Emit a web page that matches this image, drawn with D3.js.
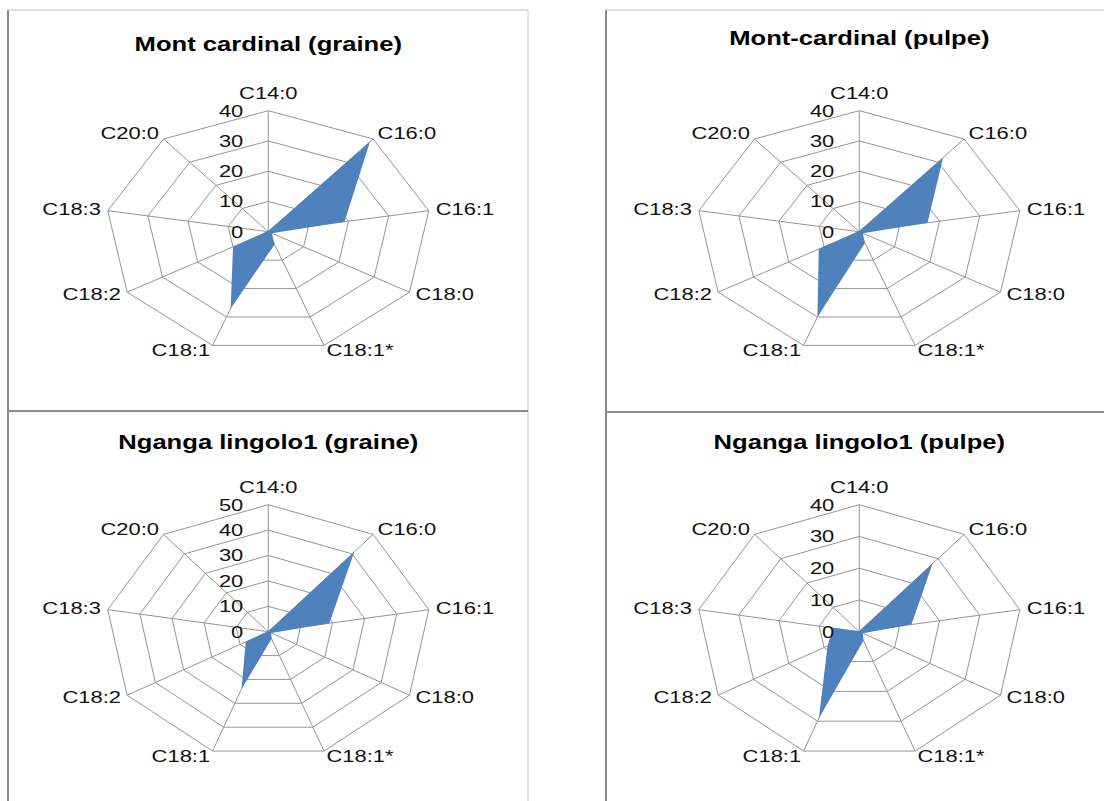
<!DOCTYPE html>
<html>
<head>
<meta charset="utf-8">
<script src="https://cdn.jsdelivr.net/npm/d3@7"></script>
<style>
  html, body { margin: 0; padding: 0; background: #fff; }
  svg { display: block; }
</style>
</head>
<body>
<svg id="chart" width="1104" height="801"></svg>
<script>
// ---- data ----
const categories = ["C14:0", "C16:0", "C16:1", "C18:0", "C18:1*", "C18:1", "C18:2", "C18:3", "C20:0"];
const titles = ["Mont cardinal (graine)", "Mont-cardinal (pulpe)", "Nganga lingolo1 (graine)", "Nganga lingolo1 (pulpe)"];
const montCardinalGraine = [0.2, 38.8, 19, 1, 4.5, 27, 10, 0.3, 0.2];
const montCardinalPulpe  = [0.2, 32, 17, 1, 4, 30, 11.5, 0.3, 0.2];
const ngangaGraine       = [0.2, 41, 19, 1, 3, 24, 8, 0.3, 0.2];
const ngangaPulpe        = [0.2, 28, 13, 1, 3, 29, 9, 6.5, 0.2];
const ticks40 = [0, 10, 20, 30, 40];
const ticks50 = [0, 10, 20, 30, 40, 50];

// ---- layout ----
const panels = [
  { values: montCardinalGraine, ticks: ticks40, cx: 268.3, cy: 231.7, ry: 121, titleY: 51 },
  { values: montCardinalPulpe,  ticks: ticks40, cx: 859.3, cy: 231.7, ry: 121, titleY: 45 },
  { values: ngangaGraine,       ticks: ticks50, cx: 268.3, cy: 631.7, ry: 127, titleY: 449 },
  { values: ngangaPulpe,        ticks: ticks40, cx: 859.3, cy: 631.7, ry: 127, titleY: 449 }
];
const RX = 163;           // horizontal radius on screen
const gridColor = "#959595";
const fillColor = "#4f81bd";

const svg = d3.select("#chart");

// frames
const frames = [
  { x1: 8, y1: 10, x2: 8, y2: 801, c: "#8a8a8a", w: 2 },
  { x1: 8, y1: 10, x2: 528, y2: 10, c: "#bdbdbd", w: 1 },
  { x1: 528, y1: 10, x2: 528, y2: 801, c: "#c8c8c8", w: 1 },
  { x1: 8, y1: 411, x2: 528, y2: 411, c: "#8a8a8a", w: 2 },
  { x1: 606, y1: 10, x2: 606, y2: 801, c: "#8a8a8a", w: 2 },
  { x1: 606, y1: 10, x2: 1104, y2: 10, c: "#bdbdbd", w: 1 },
  { x1: 606, y1: 412, x2: 1104, y2: 412, c: "#8a8a8a", w: 2 }
];
svg.selectAll("line.frame").data(frames).join("line")
  .attr("class", "frame")
  .attr("x1", d => d.x1).attr("y1", d => d.y1)
  .attr("x2", d => d.x2).attr("y2", d => d.y2)
  .attr("stroke", d => d.c).attr("stroke-width", d => d.w);

const angle = d3.scaleLinear().domain([0, categories.length]).range([0, 2 * Math.PI]);

panels.forEach((p, k) => {
  const maxV = d3.max(p.ticks);
  const r = d3.scaleLinear().domain([0, maxV]).range([0, p.ry]);
  const sx = RX / p.ry;

  const g = svg.append("g").attr("transform", `translate(${p.cx},${p.cy}) scale(${sx},1)`);

  const ringLine = d3.lineRadial()
    .angle((d, i) => angle(i))
    .radius(d => r(d))
    .curve(d3.curveLinearClosed);

  // rings
  g.selectAll("path.ring").data(p.ticks.filter(t => t > 0)).join("path")
    .attr("class", "ring")
    .attr("d", t => ringLine(categories.map(() => t)))
    .attr("fill", "none")
    .attr("stroke", gridColor)
    .attr("stroke-width", 1)
    .attr("vector-effect", "non-scaling-stroke");

  // spokes
  g.selectAll("line.spoke").data(categories).join("line")
    .attr("class", "spoke")
    .attr("x1", 0).attr("y1", 0)
    .attr("x2", (d, i) => r(maxV) * Math.sin(angle(i)))
    .attr("y2", (d, i) => -r(maxV) * Math.cos(angle(i)))
    .attr("stroke", gridColor)
    .attr("stroke-width", 1)
    .attr("vector-effect", "non-scaling-stroke");

  // series area
  g.append("path")
    .attr("d", ringLine(p.values))
    .attr("fill", fillColor)
    .attr("stroke", "none");

  // category labels
  categories.forEach((c, i) => {
    const a = angle(i);
    const s = Math.sin(a), co = Math.cos(a);
    const vx = p.cx + RX * s;
    const vy = p.cy - r(maxV) * co;
    let x, y, anchor, baseline;
    if (Math.abs(s) < 0.01) {
      x = vx; y = vy - 12; anchor = "middle"; baseline = "alphabetic";
    } else {
      x = vx + 7 * s; y = vy - 6 * co - 1;
      anchor = s > 0 ? "start" : "end"; baseline = "central";
    }
    svg.append("text")
      .attr("transform", `translate(${x},${y}) scale(1.33,1)`)
      .attr("text-anchor", anchor)
      .attr("dominant-baseline", baseline)
      .attr("font-family", "Liberation Sans, Arial, sans-serif")
      .attr("font-size", 16.5)
      .attr("fill", "#111")
      .text(c);
  });

  // tick labels
  p.ticks.forEach(t => {
    svg.append("text")
      .attr("transform", `translate(${p.cx - 25},${p.cy - r(t)}) scale(1.33,1)`)
      .attr("text-anchor", "end")
      .attr("dominant-baseline", "central")
      .attr("font-family", "Liberation Sans, Arial, sans-serif")
      .attr("font-size", 16.5)
      .attr("fill", "#111")
      .text(t);
  });

  // title
  svg.append("text")
    .attr("transform", `translate(${p.cx},${p.titleY}) scale(1.22,1)`)
    .attr("text-anchor", "middle")
    .attr("font-family", "Liberation Sans, Arial, sans-serif")
    .attr("font-weight", "bold")
    .attr("font-size", 21)
    .attr("fill", "#000")
    .text(titles[k]);
});
</script>
</body>
</html>
